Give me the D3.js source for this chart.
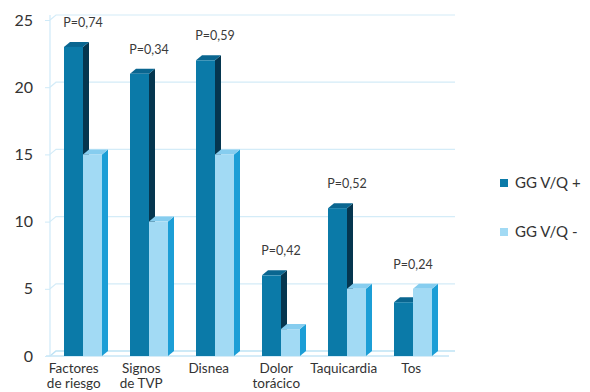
<!DOCTYPE html>
<html>
<head>
<meta charset="utf-8">
<script src="https://cdn.jsdelivr.net/npm/d3@7"></script>
<style>
  html, body { margin: 0; padding: 0; background: #fff; }
  svg { display: block; font-family: Lato, "Open Sans", sans-serif; }
</style>
</head>
<body>
<svg id="chart" width="590" height="392"></svg>
<script>
// Síntomas por grupo gammagráfico
const categories = [["Factores", "de riesgo"], ["Signos", "de TVP"], ["Disnea"], ["Dolor", "torácico"], ["Taquicardia"], ["Tos"]];
const seriesNames = ["GG V/Q +", "GG V/Q -"];
const positivos = [23, 21, 22, 6, 11, 4];
const negativos = [15, 10, 15, 2, 5, 5];
const pValues = ["P=0,74", "P=0,34", "P=0,59", "P=0,42", "P=0,52", "P=0,24"];
const yTicks = [0, 5, 10, 15, 20, 25];

const svg = d3.select("#chart");
const depthX = 6, depthY = -5;          // oblique offset of the 3D bars
const left = 50, right = 446, wallRight = 455;

const y = d3.scaleLinear().domain([0, 25]).range([356, 20]);
const x = d3.scaleBand().domain(d3.range(categories.length)).range([left, right]);
const inner = d3.scaleBand().domain([0, 1]).range([x.bandwidth() / 2 - 19, x.bandwidth() / 2 + 19]);
// category labels sit on the front edge of the floor, which is slightly wider
const xLabel = d3.scaleBand().domain(d3.range(categories.length)).range([40, 445]);

const palette = [
  { front: "#0b7aa8", side: "#05364f", top: "#0a6690" },
  { front: "#a2daf4", side: "#1c9ed6", top: "#86cdef" }
];

// back wall gridlines and left wall
const grid = svg.append("g");
yTicks.forEach(t => {
  const yy = y(t);
  grid.append("path")
    .attr("d", `M${left},${yy} L${left + depthX},${yy + depthY} L${wallRight},${yy + depthY}`)
    .attr("fill", "none")
    .attr("stroke", t === 0 ? "#bfe3f5" : "#d4ecf8")
    .attr("stroke-width", t === 0 ? 1.6 : 1.2);
});
grid.append("line")
  .attr("x1", left).attr("x2", left)
  .attr("y1", y(25) + depthY).attr("y2", y(0))
  .attr("stroke", "#cfeaf8").attr("stroke-width", 1.2);
// floor front edge
grid.append("line")
  .attr("x1", left - 4).attr("x2", wallRight - depthX)
  .attr("y1", y(0)).attr("y2", y(0))
  .attr("stroke", "#c7e6f6").attr("stroke-width", 1.6);

// y axis
const yAxis = d3.axisLeft(y).tickValues(yTicks).tickSize(5).tickPadding(12);
const ya = svg.append("g").attr("transform", `translate(${left},0)`).call(yAxis);
ya.select(".domain").remove();
ya.selectAll(".tick line").attr("stroke", "#cfeaf8");
ya.selectAll(".tick text").attr("font-size", 16).attr("fill", "#333").attr("font-family", "Lato, sans-serif");

// bars
const seriesData = [positivos, negativos];
function bar3d(g, x0, w, v, col) {
  const x1 = x0 + w, yt = y(v), yb = y(0);
  g.append("path")
    .attr("d", `M${x1},${yb} L${x1 + depthX},${yb + depthY} L${x1 + depthX},${yt + depthY} L${x1},${yt}Z`)
    .attr("fill", col.side);
  g.append("path")
    .attr("d", `M${x0},${yt} L${x0 + depthX},${yt + depthY} L${x1 + depthX},${yt + depthY} L${x1},${yt}Z`)
    .attr("fill", col.top);
  g.append("rect")
    .attr("x", x0).attr("y", yt).attr("width", w).attr("height", yb - yt)
    .attr("fill", col.front);
}
const bars = svg.append("g");
categories.forEach((c, i) => {
  seriesData.forEach((s, k) => {
    bar3d(bars, x(i) + inner(k), inner.bandwidth(), s[i], palette[k]);
  });
});

// p-value labels above each group
svg.append("g").selectAll("text").data(pValues).join("text")
  .attr("x", (d, i) => x(i) + x.bandwidth() / 2)
  .attr("y", (d, i) => y(Math.max(positivos[i], negativos[i]) + 1.8) + 4)
  .attr("text-anchor", "middle")
  .attr("font-size", 12.5)
  .attr("fill", "#3a3a3a")
  .text(d => d);

// category labels
const xl = svg.append("g");
categories.forEach((lines, i) => {
  const cx = xLabel(i) + xLabel.bandwidth() / 2;
  const t = xl.append("text")
    .attr("x", cx)
    .attr("y", 373)
    .attr("text-anchor", "middle")
    .attr("font-size", 13.5)
    .attr("fill", "#333");
  lines.forEach((ln, j) => {
    t.append("tspan").attr("x", cx).attr("dy", j === 0 ? 0 : 15).text(ln);
  });
});

// legend
const legend = svg.append("g");
seriesNames.forEach((n, k) => {
  const ly = 183 + k * 49;
  legend.append("rect").attr("x", 500).attr("y", ly - 4).attr("width", 8).attr("height", 8)
    .attr("fill", palette[k].front);
  legend.append("text").attr("x", 515).attr("y", ly + 5).attr("font-size", 15)
    .attr("fill", "#333").text(n);
});
</script>
</body>
</html>
